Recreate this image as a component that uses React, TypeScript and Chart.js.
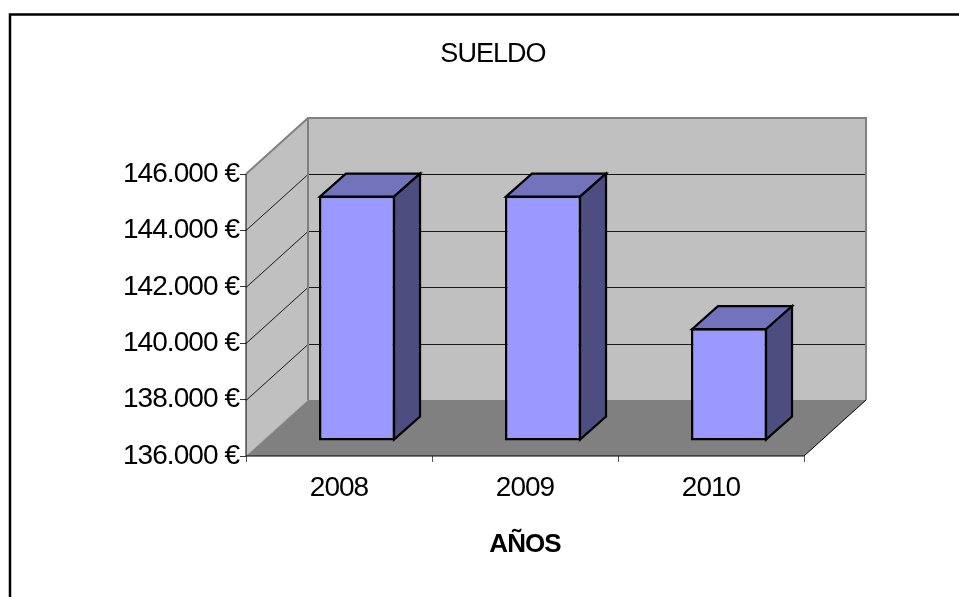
import React, { useEffect, useRef } from "react";
import { Chart, registerables } from "chart.js";

Chart.register(...registerables);

const categories = ["2008", "2009", "2010"];
const sueldo = [144700, 144700, 140000];
const yMin = 136000;
const yMax = 146000;
const yStep = 2000;

const FONT = "'Liberation Sans', Arial, sans-serif";
const WALL_DX = 62;
const WALL_DY = 56;
const BAR_SHIFT_X = 18;
const BAR_SHIFT_Y = 15;
const BAR_DX = 26;
const BAR_DY = 23;

function line(ctx: CanvasRenderingContext2D, pts: number[][], color: string, w: number) {
  ctx.beginPath();
  pts.forEach((p, i) => (i ? ctx.lineTo(p[0], p[1]) : ctx.moveTo(p[0], p[1])));
  ctx.strokeStyle = color;
  ctx.lineWidth = w;
  ctx.stroke();
}

function poly(ctx: CanvasRenderingContext2D, pts: number[][], fill: string, stroke?: string, w = 1) {
  ctx.beginPath();
  pts.forEach((p, i) => (i ? ctx.lineTo(p[0], p[1]) : ctx.moveTo(p[0], p[1])));
  ctx.closePath();
  ctx.fillStyle = fill;
  ctx.fill();
  if (stroke) {
    ctx.strokeStyle = stroke;
    ctx.lineWidth = w;
    ctx.stroke();
  }
}

const frame3d = {
  id: "frame3d",
  beforeDraw(chart: any) {
    const ctx = chart.ctx;
    ctx.letterSpacing = "-0.95px";
    ctx.save();
    line(ctx, [[10, 597], [10, 14.5], [959, 14.5]], "#000", 2.5);
    ctx.restore();
  },
  beforeDatasetsDraw(chart: any) {
    const ctx: CanvasRenderingContext2D = chart.ctx;
    const { left, right, top, bottom } = chart.chartArea;
    const y = chart.scales.y;
    const bl = left + WALL_DX;
    const br = right + WALL_DX;
    const bt = top - WALL_DY;
    const bb = bottom - WALL_DY;
    ctx.save();
    ctx.lineJoin = "miter";
    poly(ctx, [[bl, bt], [br, bt], [br, bb], [bl, bb]], "#C0C0C0");
    poly(ctx, [[left, top], [bl, bt], [bl, bb], [left, bottom]], "#C0C0C0");
    poly(ctx, [[left, bottom], [right, bottom], [br, bb], [bl, bb]], "#808080");
    y.ticks.forEach((t: any) => {
      if (t.value === yMin || t.value === yMax) return;
      const py = Math.round(y.getPixelForValue(t.value)) + 0.5;
      line(ctx, [[left, py], [bl, py - WALL_DY], [br, py - WALL_DY]], "#1a1a1a", 1);
    });
    const ty = y.getPixelForValue(yMax);
    line(ctx, [[left, ty], [bl, ty - WALL_DY], [br, ty - WALL_DY], [br, bb]], "#808080", 2);
    line(ctx, [[bl, ty - WALL_DY], [bl, bb]], "#808080", 2);
    line(ctx, [[bl + 1, ty + 0.5], [br - 1, ty + 0.5]], "#111", 1);
    line(ctx, [[left, bottom], [bl, bb]], "#A6A6A6", 1);
    line(ctx, [[left, top], [left, bottom], [right, bottom], [br, bb]], "#000", 1);

    ctx.translate(BAR_SHIFT_X, -BAR_SHIFT_Y);
    const meta = chart.getDatasetMeta(0);
    ctx.lineJoin = "miter";
    meta.data.forEach((el: any) => {
      const x0 = el.x - el.width / 2 + 1;
      const x1 = el.x + el.width / 2 - 1;
      const yt = el.y + 1;
      const yb = el.base - 1;
      poly(ctx, [[x0, yt], [x0 + BAR_DX, yt - BAR_DY], [x1 + BAR_DX, yt - BAR_DY], [x1, yt]], "#7373BD", "#000", 2.2);
      poly(ctx, [[x1, yt], [x1 + BAR_DX, yt - BAR_DY], [x1 + BAR_DX, yb - BAR_DY], [x1, yb]], "#4D4D80", "#000", 2.2);
    });
  },
  afterDatasetsDraw(chart: any) {
    chart.ctx.restore();
  },
};

export default function App() {
  const ref = useRef<HTMLCanvasElement>(null);
  useEffect(() => {
    const chart = new Chart(ref.current as HTMLCanvasElement, {
      type: "bar",
      data: {
        labels: categories,
        datasets: [
          {
            label: "SUELDO",
            data: sueldo,
            base: yMin,
            backgroundColor: "#9999FF",
            borderColor: "#000",
            borderWidth: 2.5,
            borderSkipped: false,
            barPercentage: 0.409,
            categoryPercentage: 1,
            clip: false as any,
          },
        ],
      },
      options: {
        responsive: false,
        animation: false,
        layout: { padding: { top: 0, right: 0, bottom: 0, left: 27 } },
        plugins: {
          legend: { display: false },
          tooltip: { enabled: false },
          title: {
            display: true,
            text: "SUELDO",
            color: "#000",
            font: { family: FONT, size: 27, weight: "normal", lineHeight: 1.2 },
            padding: { top: 38, bottom: 103.6 },
          },
        },
        scales: {
          x: {
            afterFit: (s: any) => {
              s.height = 141;
            },
            border: { display: false },
            grid: { drawOnChartArea: false, drawTicks: true, tickLength: 6, color: "#555" },
            ticks: {
              color: "#000",
              padding: 9,
              maxRotation: 0,
              font: { family: FONT, size: 28 },
            },
            title: {
              display: true,
              text: "AÑOS",
              color: "#000",
              font: { family: FONT, size: 26, weight: "bold", lineHeight: 1.2 },
              padding: { top: 0, bottom: 37 },
            },
          },
          y: {
            min: yMin,
            max: yMax,
            afterFit: (s: any) => {
              s.width = 219;
            },
            border: { display: false },
            grid: { drawOnChartArea: false, drawTicks: true, tickLength: 6, color: "#333" },
            ticks: {
              stepSize: yStep,
              color: "#000",
              padding: 1,
              font: { family: FONT, size: 28 },
              callback: (v: any) => `${Number(v) / 1000}.000 €`,
            },
          },
          yRight: {
            position: "right",
            display: true,
            min: yMin,
            max: yMax,
            afterFit: (s: any) => {
              s.width = 155;
            },
            border: { display: false },
            grid: { display: false },
            ticks: { display: false },
          },
        },
      },
      plugins: [frame3d],
    } as any);
    return () => chart.destroy();
  }, []);
  return (
    <canvas
      ref={ref}
      width={959}
      height={597}
      style={{ position: "absolute", left: 0, top: 0, display: "block", width: 959, height: 597 }}
    />
  );
}
